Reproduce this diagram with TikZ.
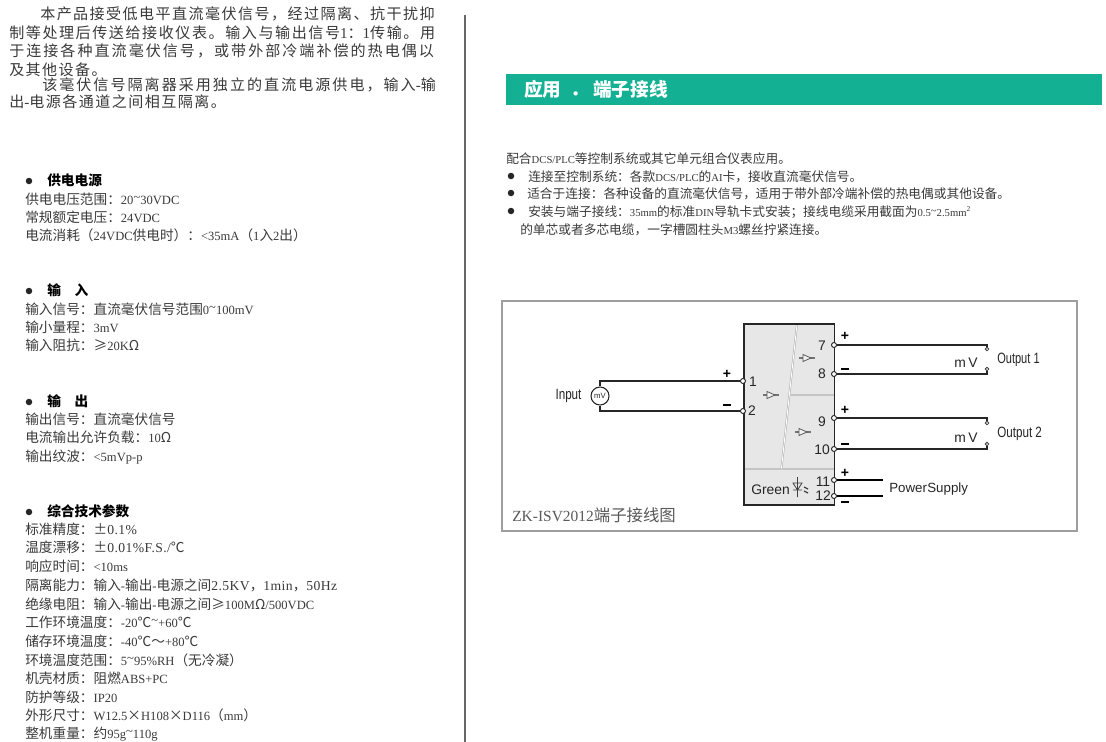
\documentclass[tikz,border=0pt]{standalone}
\usepackage{fontspec}
\setmainfont{Noto Sans CJK SC}
\newfontfamily\latn[Scale=0.92]{Liberation Serif}
\newfontfamily\latwf[LetterSpace=3]{Liberation Serif}
\newfontfamily\latrf[Scale=0.84]{Liberation Serif}
\newfontfamily\spA[LetterSpace=9.5]{Noto Sans CJK SC}
\newfontfamily\spB[LetterSpace=10.3]{Noto Sans CJK SC}
\newfontfamily\spC[LetterSpace=13.3]{Noto Sans CJK SC}
\newfontfamily\latA[LetterSpace=9.5]{Liberation Serif}
\newfontfamily\arl{Liberation Sans}
\newcommand{\lat}[1]{{\latn #1}}
\newcommand{\latw}[1]{{\latwf #1}}
\newcommand{\latr}[1]{{\latrf #1}}
\newcommand{\tl}{\raisebox{0.35ex}{\textasciitilde}}
\definecolor{ink}{HTML}{3A3A3A}
\definecolor{banner}{HTML}{14B093}
\definecolor{modfill}{HTML}{E6E7E6}
\tikzset{
  body/.style={anchor=base west,inner sep=0pt,text=ink,font=\fontsize{10.25}{12}\selectfont},
  lead/.style={anchor=base west,inner sep=0pt,text=ink,font=\fontsize{11.3}{12}\spA},
  leadb/.style={lead,font=\fontsize{11.3}{12}\spB},
  leadc/.style={lead,font=\fontsize{11.3}{12}\spC},
  small/.style={anchor=base west,inner sep=0pt,text=ink,font=\fontsize{9.53}{11}\selectfont},
  head/.style={anchor=base west,inner sep=0pt,text=black,font=\fontsize{10.25}{12}\bfseries},
  dot/.style={circle,fill=black!85,inner sep=0pt,minimum size=6.5*0.75pt},
  term/.style={circle,draw=black!85,fill=white,line width=0.7pt,inner sep=0pt,minimum size=5*0.75pt},
  endp/.style={circle,draw=black!75,fill=white,line width=0.6pt,inner sep=0pt,minimum size=3.6*0.75pt},
  wire/.style={draw=black!85,line width=0.95pt},
  lab/.style={inner sep=0pt,text=black!85,font=\arl\fontsize{10.4}{12}\selectfont},
  pm/.style={inner sep=0pt,text=black,font=\arl\bfseries\fontsize{10.5}{11}\selectfont},
  ampsym/.pic={
    \draw[black!55,line width=1.4pt] (-8,0) -- (-4,0) (3,0) -- (8,0);
    \draw[black!65,line width=0.6pt,fill=modfill!60!white] (-4,-3.5) -- (4,0) -- (-4,3.5) -- cycle;
  }
}
\begin{document}
\begin{tikzpicture}[x=0.75pt,y=-0.75pt]
\useasboundingbox (0,0) rectangle (1106,742);
\fill[white] (0,0) rectangle (1106,742);
% left lead paragraph
\node[lead] (p1) at (40,20) {本产品接受低电平直流毫伏信号，经过隔离、抗干扰抑};
\node[leadb] (p2) at (9,38.5) {制等处理后传送给接收仪表。输入与输出信号{\latA 1}：{\latA 1}传输。用};
\node[leadc] (p3) at (9,57) {于连接各种直流毫伏信号，或带外部冷端补偿的热电偶以};
\node[lead] (p4) at (9,75) {及其他设备。};
\node[leadc] (p5) at (42,90) {该毫伏信号隔离器采用独立的直流电源供电，输入{\latA -}输};
\node[lead] (p6) at (9,108) {出{\latA -}电源各通道之间相互隔离。};
% divider
\draw[draw=black!60,line width=1.4pt] (465,15) -- (465,742);
% power
\node[dot] (b1) at (29,181) {};
\node[head] (h1) at (47,185) {供电电源};
\node[body] (a1) at (25,204) {供电电压范围：\lat{20\tl30VDC}};
\node[body] (a2) at (25,222) {常规额定电压：\lat{24VDC}};
\node[body] (a3) at (25,240) {电流消耗（\lat{24VDC}供电时）：\lat{<35mA}（\lat{1}入\lat{2}出）};
% input
\node[dot] (b2) at (29,291) {};
\node[head] (h2) at (47,295) {输\hspace{1em}入};
\node[body] (c1) at (25,314) {输入信号：直流毫伏信号范围\lat{0\tl100mV}};
\node[body] (c2) at (25,332) {输小量程：\lat{3mV}};
\node[body] (c3) at (25,350) {输入阻抗：≥\lat{20K}Ω};
% output
\node[dot] (b3) at (29,402) {};
\node[head] (h3) at (47,406) {输\hspace{1em}出};
\node[body] (d1) at (25,424) {输出信号：直流毫伏信号};
\node[body] (d2) at (25,442) {电流输出允许负载：\lat{10}Ω};
\node[body] (d3) at (25,461) {输出纹波：\lat{<5mVp-p}};
% technical
\node[dot] (b4) at (29,512) {};
\node[head] (h4) at (47,516) {综合技术参数};
\node[body] (e1) at (25,534) {标准精度：±\latw{0.1\%}};
\node[body] (e2) at (25,552) {温度漂移：±\latw{0.01\%F.S./}℃};
\node[body] (e3) at (25,571) {响应时间：\lat{<10ms}};
\node[body] (e4) at (25,590) {隔离能力：输入\lat{-}输出\lat{-}电源之间\latw{2.5KV}，\latw{1min}，\latw{50Hz}};
\node[body] (e5) at (25,609) {绝缘电阻：输入\lat{-}输出\lat{-}电源之间≥\lat{100M}Ω\lat{/500VDC}};
\node[body] (e6) at (25,627) {工作环境温度：\lat{-20}℃\lat{\tl+60}℃};
\node[body] (e7) at (25,646) {储存环境温度：\lat{-40}℃～\lat{+80}℃};
\node[body] (e8) at (25,665) {环境温度范围：\lat{5\tl95\%RH}（无冷凝）};
\node[body] (e9) at (25,683) {机壳材质：阻燃\lat{ABS+PC}};
\node[body] (e10) at (25,702) {防护等级：\lat{IP20}};
\node[body] (e11) at (25,720) {外形尺寸：\lat{W12.5}×\lat{H108}×\lat{D116}（\lat{mm}）};
\node[body] (e12) at (25,738) {整机重量：约\lat{95g\tl110g}};
% banner
\fill[banner] (506,74) rectangle (1102,105);
\node[anchor=base west,inner sep=0pt,text=white,font=\fontsize{14}{15}\bfseries] (ban) at (524,96) {应用\hspace{0.5em}．\hspace{0.2em}端子接线};
% right text
\node[small] (r0) at (506,163) {配合\latr{DCS/PLC}等控制系统或其它单元组合仪表应用。};
\node[dot] (rb1) at (511,176) {};
\node[small] (r1) at (528,181) {连接至控制系统：各款\latr{DCS/PLC}的\latr{AI}卡，接收直流毫伏信号。};
\node[dot] (rb2) at (511,193) {};
\node[small] (r2) at (527,198) {适合于连接：各种设备的直流毫伏信号，适用于带外部冷端补偿的热电偶或其他设备。};
\node[dot] (rb3) at (511,211) {};
\node[small] (r3) at (528,216) {安装与端子接线：\latr{35mm}的标准\latr{DIN}导轨卡式安装；接线电缆采用截面为\latr{0.5\tl2.5mm}\textsuperscript{\latr{2}}};
\node[small] (r4) at (520,234) {的单芯或者多芯电缆，一字槽圆柱头\latr{M3}螺丝拧紧连接。};
% frame
\draw[draw=black!38,line width=1.3pt] (502,301) rectangle (1077,531);
\node[anchor=base west,inner sep=0pt,text=black!65,font=\fontsize{12.3}{13}\selectfont] (cap) at (512,521) {{\fontspec{Liberation Serif}\fontsize{11.6}{13}\selectfont ZK-ISV2012}端子接线图};
% module
\fill[modfill] (744,324) rectangle (834.5,505);
\draw[black!35,line width=1.4pt] (797,324) -- (781.5,468) (744,469) -- (834.5,469) (790,395) -- (834.5,395);
\draw[white,line width=0.7pt] (797,324) -- (781.5,468) (744,469) -- (834.5,469) (790,395) -- (834.5,395);
\draw[draw=black!85,line width=1.3pt] (744,324) rectangle (834.5,505);
\pic at (771,395) {ampsym};
\pic at (807,358) {ampsym};
\pic at (803,432) {ampsym};
% terminals
\node[term] (t1) at (743,381) {};
\node[term] (t2) at (743,411) {};
\node[term] (t7) at (834,345) {};
\node[term] (t8) at (834,374) {};
\node[term] (t9) at (834,418) {};
\node[term] (t10) at (834,449) {};
\node[term] (t11) at (834,480) {};
\node[term] (t12) at (834,496) {};
% source
\node[circle,draw=black!85,fill=white,line width=0.8pt,inner sep=0pt,minimum size=18*0.75pt,font=\arl\fontsize{5.8}{6}\selectfont,text=black!85] (src) at (600,396) {mV};
\draw[wire] (src) -- (600,381) -- (t1);
\draw[wire] (src) -- (600,411) -- (t2);
% outputs
\node[endp] (o1a) at (987,349) {};
\node[endp] (o1b) at (987,369) {};
\node[endp] (o2a) at (987,423) {};
\node[endp] (o2b) at (987,444) {};
\draw[wire] (t7) -- (987,345) -- (o1a);
\draw[wire] (t8) -- (987,374) -- (o1b);
\draw[wire] (t9) -- (987,418) -- (o2a);
\draw[wire] (t10) -- (987,449) -- (o2b);
\coordinate (pw1) at (883,480);
\coordinate (pw2) at (883,496);
\draw[draw=black,line width=2.2pt] (t11) -- (pw1);
\draw[draw=black,line width=1.5pt] (t12) -- (pw2);
% labels
\node[lab] (n1) at (753,382) {1};
\node[lab] (n2) at (752,411) {2};
\node[lab] (n7) at (822,346) {7};
\node[lab] (n8) at (822,374) {8};
\node[lab] (n9) at (822,422) {9};
\node[lab] (n10) at (822,450) {10};
\node[lab] (n11) at (823,482) {11};
\node[lab] (n12) at (823,496) {12};
\node[pm] (q1) at (727,374.5) {+};
\node[pm] (q2) at (727,405) {\rule{0.55em}{0.17em}};
\node[pm] (q7) at (845,336) {+};
\node[pm] (q8) at (845,369) {\rule{0.6em}{0.18em}};
\node[pm] (q9) at (845,410) {+};
\node[pm] (q10) at (845,444) {\rule{0.6em}{0.18em}};
\node[pm] (q11) at (845,473) {+};
\node[pm] (q12) at (845,502) {\rule{0.6em}{0.18em}};
\node[lab] (inp) at (568.5,396) {\scalebox{0.78}[1]{\fontsize{11.2}{12}\selectfont Input}};
\node[lab,anchor=west] (out1) at (997,360) {\scalebox{0.74}[1]{\fontsize{11.2}{12}\selectfont Output 1}};
\node[lab,anchor=west] (out2) at (997,434) {\scalebox{0.78}[1]{\fontsize{11.2}{12}\selectfont Output 2}};
\node[lab] (mv1) at (966,363) {m\,V};
\node[lab] (mv2) at (966,438) {m\,V};
\node[lab,anchor=west] (pws) at (889,489) {\fontsize{10}{12}\selectfont Power\hspace{0.02em}Supply};
\node[lab,anchor=west] (grn) at (751,490) {Green};
% LED symbol
\draw[black!75,line width=0.6pt] (797.5,477) -- (797.5,497) (793,483) -- (802,483) -- (797.5,490) -- cycle (793,490) -- (802,490);
\draw[black!75,line width=0.9pt] (804,487) -- (808,489) (804,491) -- (808,493);
\end{tikzpicture}
\end{document}
